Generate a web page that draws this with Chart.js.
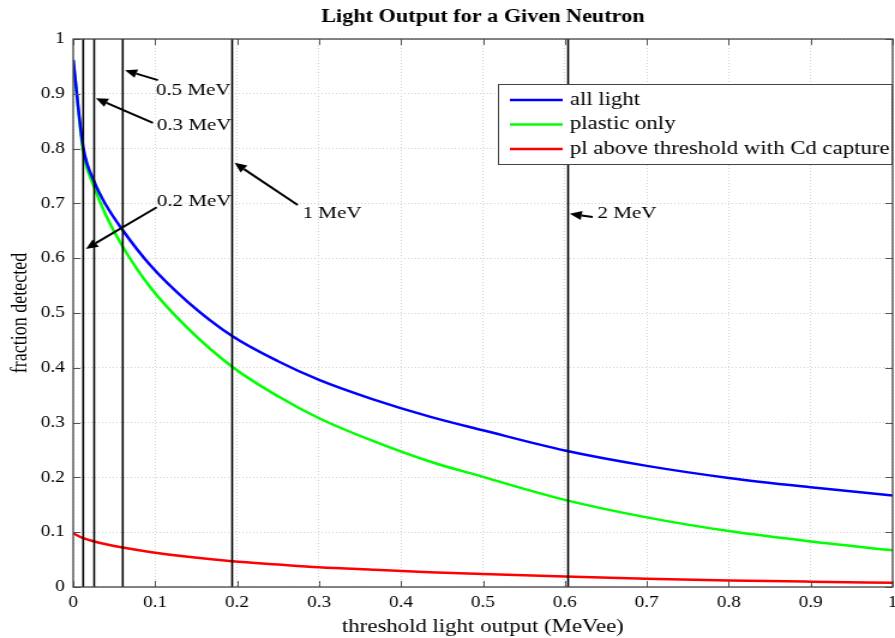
<!DOCTYPE html>
<html>
<head>
<meta charset="utf-8">
<script src="https://cdn.jsdelivr.net/npm/chart.js@4.4.1/dist/chart.umd.min.js"></script>
<style>
  html, body { margin: 0; padding: 0; background: #fff; }
</style>
</head>
<body>
<!-- the reference is stretched sideways, so the canvas is drawn narrower and widened by css -->
<canvas id="myChart" width="746" height="638" style="width:895px;height:638px;display:block"></canvas>
<script>
// threshold light output (MeVee) where the curves were read
const thresholds = [0, 0.0122, 0.0256, 0.04, 0.0605, 0.0936, 0.14, 0.194, 0.25, 0.3, 0.365, 0.435, 0.5, 0.6, 0.7, 0.8, 0.9, 1.0];
const allLight = [0.962, 0.803, 0.740, 0.697, 0.651, 0.588, 0.520, 0.458, 0.412, 0.378, 0.343, 0.311, 0.286, 0.249, 0.221, 0.199, 0.182, 0.167];
const plasticOnly = [0.962, 0.795, 0.730, 0.678, 0.621, 0.548, 0.472, 0.402, 0.348, 0.308, 0.267, 0.229, 0.201, 0.159, 0.127, 0.102, 0.083, 0.067];
const cdCapture = [0.098, 0.089, 0.083, 0.078, 0.072, 0.064, 0.055, 0.047, 0.041, 0.036, 0.0315, 0.027, 0.0235, 0.019, 0.0152, 0.012, 0.0097, 0.0078];

const seriesNames = ["all light", "plastic only", "pl above threshold with Cd capture"];
const chartTitle = "Light Output for a Given Neutron";

// neutron energies marked by vertical lines, in MeVee
const markerNames = ["0.2 MeV", "0.3 MeV", "0.5 MeV", "1 MeV", "2 MeV"];
const markerX = [0.0122, 0.0256, 0.0605, 0.194, 0.604];
// arrow tip, arrow tail and text anchor for each marker (data units)
const arrowTip = [[0.0155, 0.617], [0.0277, 0.892], [0.0632, 0.943], [0.197, 0.774], [0.606, 0.681]];
const arrowTail = [[0.102, 0.693], [0.0973, 0.847], [0.1034, 0.925], [0.274, 0.697], [0.634, 0.675]];
const textAt = [[0.102, 0.703], [0.102, 0.843], [0.101, 0.907], [0.280, 0.681], [0.640, 0.681]];

const xTicks = [0, 0.1, 0.2, 0.3, 0.4, 0.5, 0.6, 0.7, 0.8, 0.9, 1];
const yTicks = [0, 0.1, 0.2, 0.3, 0.4, 0.5, 0.6, 0.7, 0.8, 0.9, 1];

const serif = "'Liberation Serif', 'Times New Roman', serif";
Chart.defaults.font.family = serif;
Chart.defaults.color = "#000";

const toPoints = (ys) => thresholds.map((t, i) => ({ x: t, y: ys[i] }));
const fmt = (v) => String(Number(v.toFixed(1)));

const markerSets = markerX.map((mx) => ({
  data: [{ x: mx, y: 0 }, { x: mx, y: 1 }],
  borderColor: "#000",
  borderWidth: 1.6,
  pointRadius: 0,
}));

const curveSets = [
  { label: seriesNames[0], data: toPoints(allLight), borderColor: "#0000ff" },
  { label: seriesNames[1], data: toPoints(plasticOnly), borderColor: "#00ff00" },
  { label: seriesNames[2], data: toPoints(cdCapture), borderColor: "#ff0000" },
].map((d) => ({ ...d, borderWidth: 2.5, pointRadius: 0, cubicInterpolationMode: "monotone" }));

// title over the plot, axes box, inward ticks, arrows and the legend box
const overlay = {
  id: "overlay",
  afterDatasetsDraw(chart) {
    const { ctx, chartArea: a, scales } = chart;
    const x = scales.x, y = scales.y;
    ctx.save();

    ctx.fillStyle = "#000";
    ctx.font = "bold 18.5px " + serif;
    ctx.textAlign = "center";
    ctx.textBaseline = "middle";
    ctx.fillText(chartTitle, (a.left + a.right) / 2, 17);

    ctx.strokeStyle = "#555";
    ctx.lineWidth = 1;
    ctx.beginPath();
    xTicks.forEach((v) => {
      const px = Math.round(x.getPixelForValue(v)) + 0.5;
      ctx.moveTo(px, a.bottom); ctx.lineTo(px, a.bottom - 6);
      ctx.moveTo(px, a.top); ctx.lineTo(px, a.top + 6);
    });
    yTicks.forEach((v) => {
      const py = Math.round(y.getPixelForValue(v)) + 0.5;
      ctx.moveTo(a.left, py); ctx.lineTo(a.left + 6, py);
      ctx.moveTo(a.right, py); ctx.lineTo(a.right - 6, py);
    });
    ctx.stroke();
    ctx.strokeStyle = "#444";
    ctx.lineWidth = 1.3;
    ctx.strokeRect(a.left, a.top, a.right - a.left, a.bottom - a.top);

    // arrows
    ctx.strokeStyle = "#000";
    ctx.fillStyle = "#000";
    ctx.lineWidth = 2;
    markerNames.forEach((name, i) => {
      const tx = x.getPixelForValue(arrowTip[i][0]), ty = y.getPixelForValue(arrowTip[i][1]);
      const sx = x.getPixelForValue(arrowTail[i][0]), sy = y.getPixelForValue(arrowTail[i][1]);
      const ang = Math.atan2(ty - sy, tx - sx);
      const len = 10, half = 4.5;
      const bx = tx - len * Math.cos(ang), by = ty - len * Math.sin(ang);
      ctx.beginPath();
      ctx.moveTo(sx, sy);
      ctx.lineTo(bx, by);
      ctx.stroke();
      ctx.beginPath();
      ctx.moveTo(tx, ty);
      ctx.lineTo(bx + half * Math.sin(ang), by - half * Math.cos(ang));
      ctx.lineTo(bx - half * Math.sin(ang), by + half * Math.cos(ang));
      ctx.closePath();
      ctx.fill();

      ctx.font = "17.5px " + serif;
      ctx.textAlign = "left";
      ctx.textBaseline = "middle";
      ctx.fillText(name, x.getPixelForValue(textAt[i][0]), y.getPixelForValue(textAt[i][1]));
    });

    // legend
    const items = chart.data.datasets.filter((d) => d.label);
    const lx = a.right - 329, ly = a.top + 45, lw = 329, lh = 81;
    ctx.fillStyle = "#fff";
    ctx.fillRect(lx, ly, lw, lh);
    ctx.strokeStyle = "#444";
    ctx.lineWidth = 1;
    ctx.strokeRect(lx + 0.5, ly + 0.5, lw - 1, lh - 1);
    ctx.font = "19px " + serif;
    ctx.textAlign = "left";
    ctx.textBaseline = "middle";
    items.forEach((d, i) => {
      const ry = ly + 16 + i * 24.5;
      ctx.strokeStyle = d.borderColor;
      ctx.lineWidth = 2.5;
      ctx.beginPath();
      ctx.moveTo(lx + 10, ry);
      ctx.lineTo(lx + 54, ry);
      ctx.stroke();
      ctx.fillStyle = "#000";
      ctx.fillText(d.label, lx + 60, ry);
    });
    ctx.restore();
  },
};

new Chart("myChart", {
  type: "line",
  data: { datasets: [...markerSets, ...curveSets] },
  options: {
    responsive: false,
    devicePixelRatio: 1,
    animation: false,
    layout: { padding: { left: 6, right: 2, top: 39, bottom: 0 } },
    plugins: {
      legend: { display: false },
      tooltip: { enabled: false },
      title: { display: false },
    },
    scales: {
      x: {
        type: "linear",
        min: 0,
        max: 1,
        afterBuildTicks: (s) => { s.ticks = xTicks.map((v) => ({ value: v })); },
        afterFit: (s) => { s.height = 51; s.paddingLeft = 0; s.paddingRight = 0; },
        ticks: { callback: fmt, padding: 6, font: { size: 16 }, maxRotation: 0, autoSkip: false },
        grid: { color: "#d2d2d2", drawTicks: false },
        border: { display: false, dash: [1, 2] },
        title: { display: true, text: "threshold light output (MeVee)", font: { size: 19 }, padding: { top: 0, bottom: 0 } },
      },
      y: {
        type: "linear",
        min: 0,
        max: 1,
        afterBuildTicks: (s) => { s.ticks = yTicks.map((v) => ({ value: v })); },
        afterFit: (s) => { s.width = 55; s.paddingTop = 0; s.paddingBottom = 0; },
        ticks: { callback: fmt, padding: 7, font: { size: 16 }, autoSkip: false },
        grid: { color: "#d2d2d2", drawTicks: false },
        border: { display: false, dash: [1, 2] },
        title: { display: true, text: "fraction detected", font: { size: 18 }, padding: 0 },
      },
    },
  },
  plugins: [overlay],
});
</script>
</body>
</html>
